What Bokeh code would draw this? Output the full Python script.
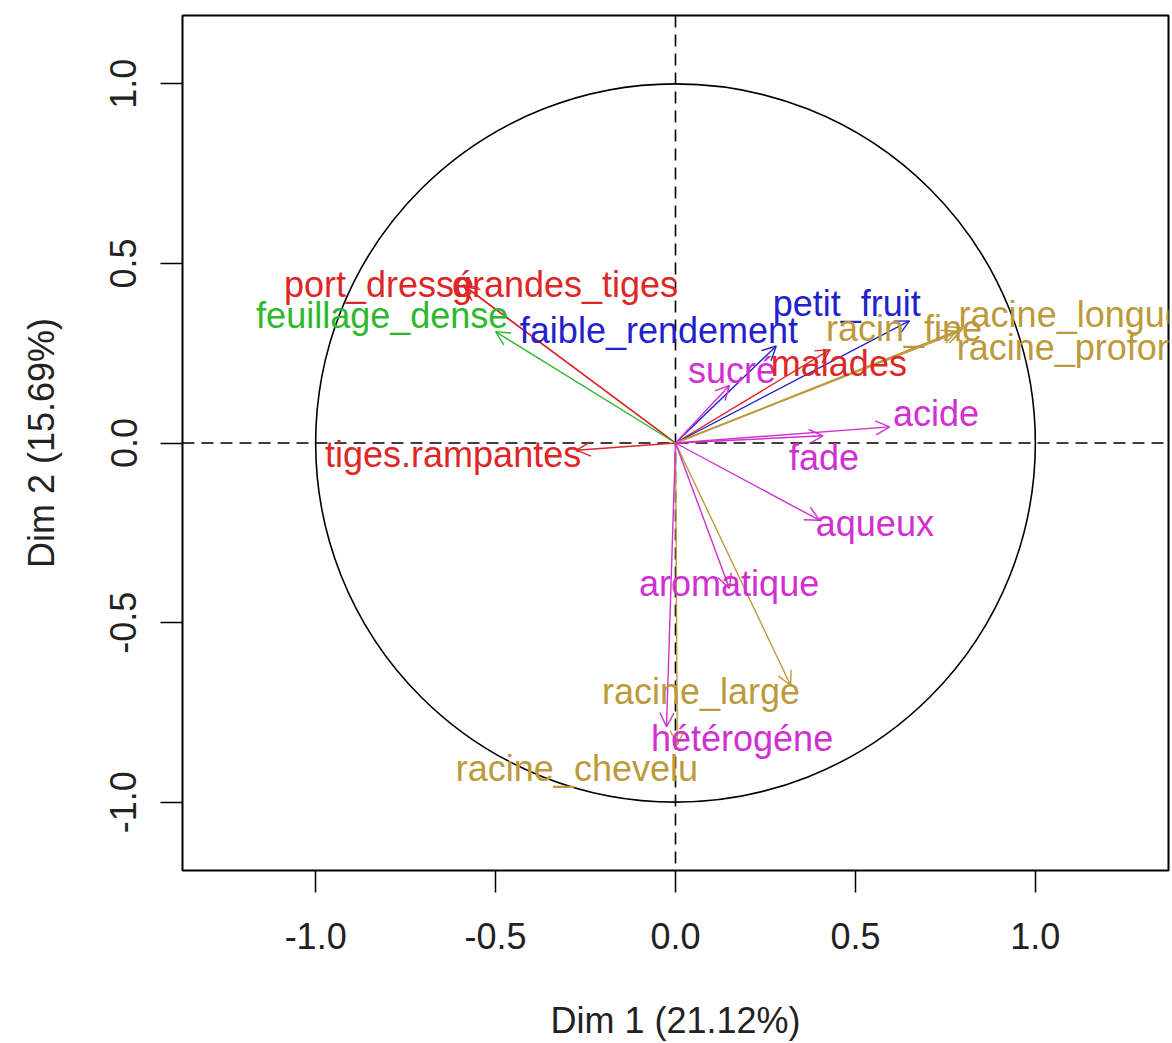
from bokeh.plotting import figure
from bokeh.models import (Arrow, OpenHead, ColumnDataSource, Span, Range1d,
                          FixedTicker, PrintfTickFormatter)
from bokeh.core.properties import value
from bokeh.embed import file_html
from bokeh.resources import INLINE

# Variables factor map (PCA): coordinates on Dim 1 / Dim 2
variables = ["port_dressé", "grandes_tiges", "feuillage_dense", "tiges.rampantes",
             "faible_rendement", "petit_fruit", "racine_longue", "racine_profonde",
             "racin_fine", "sucré", "malades", "acide", "fade", "aqueux",
             "aromatique", "racine_large", "hétérogéne", "racine_chevelu"]
dim1 = [-0.59, -0.585, -0.50, -0.275, 0.28, 0.65, 0.80, 0.79, 0.78, 0.15, 0.43,
        0.595, 0.41, 0.40, 0.15, 0.32, -0.025, 0.005]
dim2 = [0.44, 0.435, 0.31, -0.02, 0.27, 0.34, 0.32, 0.31, 0.31, 0.16, 0.26,
        0.045, 0.02, -0.215, -0.405, -0.675, -0.79, -0.84]
groups = ["plante", "plante", "feuillage", "plante", "rendement", "rendement",
          "racine", "racine", "racine", "gout", "plante", "gout", "gout", "gout",
          "gout", "racine", "gout", "racine"]

# label anchors (centre of each label, in axis units)
label_x = [-0.824, -0.307, -0.815, -0.618, -0.046, 0.476, 1.101, 1.143, 0.635,
           0.157, 0.454, 0.724, 0.4125, 0.554, 0.149, 0.071, 0.185, -0.274]
label_y = [0.440, 0.440, 0.356, -0.031, 0.314, 0.387, 0.359, 0.267, 0.320,
           0.203, 0.220, 0.083, -0.039, -0.223, -0.392, -0.693, -0.823, -0.907]

x_ticks = [-1.0, -0.5, 0.0, 0.5, 1.0]
y_ticks = [-1.0, -0.5, 0.0, 0.5, 1.0]
x_title = "Dim 1 (21.12%)"
y_title = "Dim 2 (15.69%)"

group_colors = {"plante": "#DD2626", "feuillage": "#2EB82E", "rendement": "#2222CC",
                "racine": "#BC9A3C", "gout": "#D030D0"}
colors = [group_colors[g] for g in groups]

FONT = "Liberation Sans"
FSIZE = "36px"

p = figure(width=1172, height=1043,
           x_range=Range1d(-1.37, 1.37), y_range=Range1d(-1.19, 1.19),
           output_backend="svg", toolbar_location=None,
           min_border_left=182, min_border_right=4,
           min_border_top=15, min_border_bottom=173)
p.background_fill_color = "white"
p.border_fill_color = "white"
p.xgrid.visible = False
p.ygrid.visible = False
p.outline_line_color = "black"
p.outline_line_width = 2

for ax, ticks, title in ((p.xaxis, x_ticks, x_title), (p.yaxis, y_ticks, y_title)):
    ax.ticker = FixedTicker(ticks=ticks)
    ax.formatter = PrintfTickFormatter(format="%.1f")
    ax.axis_line_color = None
    ax.major_tick_line_color = "black"
    ax.major_tick_line_width = 1.5
    ax.major_tick_out = 22
    ax.major_tick_in = 0
    ax.minor_tick_line_color = None
    ax.major_label_text_font = FONT
    ax.major_label_text_font_size = FSIZE
    ax.major_label_text_color = "#222222"
    ax.axis_label = title
    ax.axis_label_text_font = FONT
    ax.axis_label_text_font_size = FSIZE
    ax.axis_label_text_font_style = "normal"
    ax.axis_label_text_color = "#222222"
p.xaxis.major_label_standoff = 30
p.xaxis.axis_label_standoff = 48
p.yaxis.major_label_standoff = 24
p.yaxis.axis_label_standoff = 46
p.yaxis.major_label_orientation = "vertical"

# reference lines through the origin
for dim in ("width", "height"):
    p.add_layout(Span(location=0, dimension=dim, line_color="black",
                      line_width=1.6, line_dash="12 7", level="underlay"))

# correlation circle
p.ellipse(x=0, y=0, width=2, height=2, fill_color=None,
          line_color="black", line_width=1.6)

# one arrow set per variable group
for g, c in group_colors.items():
    idx = [i for i, gg in enumerate(groups) if gg == g]
    src = ColumnDataSource(dict(x=[dim1[i] for i in idx], y=[dim2[i] for i in idx]))
    p.add_layout(Arrow(end=OpenHead(size=14, line_color=c, line_width=1.4),
                       x_start=0, y_start=0, x_end="x", y_end="y", source=src,
                       line_color=c, line_width=1.4, level="underlay"))

labels = ColumnDataSource(dict(x=label_x, y=label_y, name=variables, color=colors))
p.text(x="x", y="y", text="name", source=labels, text_color="color",
       text_align="center", text_baseline="middle",
       text_font=value(FONT), text_font_size=FSIZE)

open("out.html", "w").write(file_html(p, INLINE))
